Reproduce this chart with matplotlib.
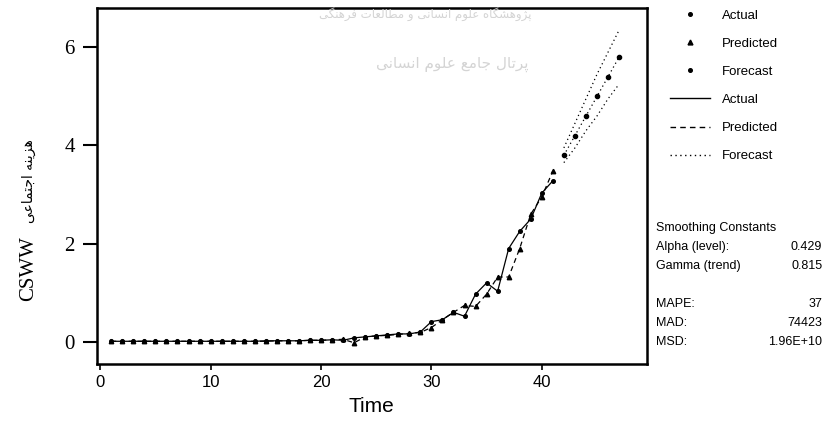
import matplotlib
matplotlib.use("Agg")
import matplotlib.pyplot as plt
from matplotlib.lines import Line2D

# data
time = list(range(1, 42))
actual = [0.01, 0.01, 0.01, 0.01, 0.01, 0.01, 0.01, 0.01, 0.01, 0.01, 0.01,
          0.01, 0.01, 0.01, 0.02, 0.02, 0.02, 0.02, 0.03, 0.03, 0.04, 0.03,
          0.08, 0.10, 0.12, 0.14, 0.16, 0.16, 0.20, 0.41, 0.45, 0.60, 0.52,
          0.97, 1.20, 1.03, 1.90, 2.25, 2.50, 3.03, 3.28]
predicted = [0.01, 0.01, 0.01, 0.01, 0.01, 0.01, 0.01, 0.01, 0.01, 0.01, 0.01,
             0.01, 0.01, 0.01, 0.01, 0.02, 0.02, 0.02, 0.03, 0.03, 0.04, 0.05,
             -0.02, 0.10, 0.12, 0.13, 0.15, 0.17, 0.19, 0.29, 0.45, 0.60, 0.74,
             0.72, 0.97, 1.32, 1.32, 1.90, 2.60, 2.95, 3.48]
time_fc = [42, 43, 44, 45, 46, 47]
forecast = [3.80, 4.20, 4.60, 5.00, 5.40, 5.80]
upper = [3.95, 4.45, 4.95, 5.45, 5.90, 6.35]
lower = [3.65, 3.95, 4.30, 4.60, 4.95, 5.25]

x_ticks = [0, 10, 20, 30, 40]
y_ticks = [0, 2, 4, 6]

stats_labels = ["Smoothing Constants", "Alpha (level):", "Gamma (trend)", "",
                "MAPE:", "MAD:", "MSD:"]
stats_values = ["", "0.429", "0.815", "", "37", "74423", "1.96E+10"]

# persian texts as shaped glyphs in logical order, reversed for display
# هزینه اجتماعی
fa_label = "\ufeeb\ufeb0\ufbfe\ufee8\ufeea \ufe8d\ufe9f\ufe98\ufee4\ufe8e\ufecb\ufbfd"[::-1]
# پژوهشگاه علوم انسانی و مطالعات فرهنگی
wm_top = ("\ufb58\ufb8b\ufeed\ufeeb\ufeb8\ufb95\ufe8e\ufee9 "
          "\ufecb\ufee0\ufeee\ufee1 "
          "\ufe8d\ufee7\ufeb4\ufe8e\ufee7\ufbfd "
          "\ufeed "
          "\ufee3\ufec4\ufe8e\ufedf\ufecc\ufe8e\ufe95 "
          "\ufed3\ufeae\ufeeb\ufee8\ufb95\ufbfd")[::-1]
# پرتال جامع علوم انسانی
wm_mid = ("\ufb58\ufeae\ufe97\ufe8e\ufedd "
          "\ufe9f\ufe8e\ufee3\ufeca "
          "\ufecb\ufee0\ufeee\ufee1 "
          "\ufe8d\ufee7\ufeb4\ufe8e\ufee7\ufbfd")[::-1]

sans = "Liberation Sans"
serif = "Liberation Serif"
plt.rcParams["font.family"] = [sans, "DejaVu Sans"]

fig = plt.figure(figsize=(8.28, 4.47), dpi=100)
ax = fig.add_axes([0.117, 0.186, 0.664, 0.796])

# faint watermark of the source page
fig.text(0.513, 0.968, wm_top, ha="center", va="center", color="#d4d4d4",
         fontfamily=["DejaVu Sans"], fontsize=8.5, zorder=0)
fig.text(0.546, 0.855, wm_mid, ha="center", va="center", color="#d4d4d4",
         fontfamily=["DejaVu Sans"], fontsize=11, zorder=0)
ax.patch.set_alpha(0)

ax.plot(time, actual, color="black", lw=0.9, ls="-", marker="o", ms=2.6)
ax.plot(time, predicted, color="black", lw=0.9, ls=(0, (4, 3)), marker="^", ms=3.2)
ax.plot(time_fc, forecast, color="black", lw=0.9, ls=(0, (1, 2.5)), marker="o", ms=3.0)
ax.plot(time_fc, upper, color="black", lw=0.9, ls=(0, (1, 2.5)))
ax.plot(time_fc, lower, color="black", lw=0.9, ls=(0, (1, 2.5)))

ax.set_xlim(-0.3, 49.5)
ax.set_ylim(-0.45, 6.8)
ax.set_xticks(x_ticks)
ax.set_yticks(y_ticks)
ax.set_xticklabels([str(v) for v in x_ticks])
ax.set_yticklabels([str(v) for v in y_ticks])
for lbl in ax.get_xticklabels():
    lbl.set_fontfamily(sans)
    lbl.set_fontsize(12)
for lbl in ax.get_yticklabels():
    lbl.set_fontfamily(serif)
    lbl.set_fontsize(15)
ax.tick_params(axis="x", direction="out", length=4, width=1.2, pad=4)
ax.tick_params(axis="y", direction="out", length=10, width=1.5, pad=6)
for s in ax.spines.values():
    s.set_linewidth(1.8)

ax.set_xlabel("Time", fontfamily=sans, fontsize=15, labelpad=5)

fig.text(0.035, 0.40, "CSWW", rotation=90, ha="center", va="center",
         fontfamily=serif, fontsize=15)
fig.text(0.035, 0.595, fa_label, rotation=90, ha="center", va="center",
         fontfamily=["DejaVu Sans"], fontsize=10)

# legend: markers first, then lines
handles = [
    Line2D([], [], color="black", ls="none", marker="o", ms=2.6),
    Line2D([], [], color="black", ls="none", marker="^", ms=3.5),
    Line2D([], [], color="black", ls="none", marker="o", ms=2.6),
    Line2D([], [], color="black", lw=1.0, ls="-"),
    Line2D([], [], color="black", lw=1.0, ls=(0, (4, 3))),
    Line2D([], [], color="black", lw=1.0, ls=(0, (1, 2.5))),
]
labels = ["Actual", "Predicted", "Forecast", "Actual", "Predicted", "Forecast"]
fig.legend(handles, labels, loc="upper left", bbox_to_anchor=(0.795, 1.005),
           frameon=False, prop={"family": sans, "size": 9.5},
           handlelength=3.0, labelspacing=1.2, handletextpad=0.9)

# smoothing constants and accuracy measures
y0 = 0.49
for i, (lab, val) in enumerate(zip(stats_labels, stats_values)):
    yy = y0 - i * 0.0425
    if lab:
        fig.text(0.792, yy, lab, fontfamily=sans, fontsize=9, va="center")
    if val:
        fig.text(0.993, yy, val, fontfamily=sans, fontsize=9, va="center", ha="right")

fig.savefig("out.png", dpi=100)
